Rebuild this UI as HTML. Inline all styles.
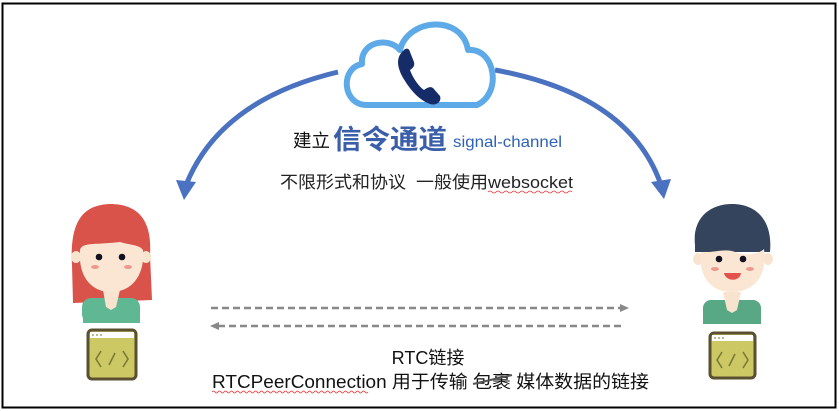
<!DOCTYPE html>
<html><head><meta charset="utf-8"><style>
html,body{margin:0;padding:0;background:#fff;}
svg{display:block;}
text{font-family:"Liberation Sans","Noto Sans CJK SC",sans-serif;}
</style></head><body>
<svg width="839" height="411" viewBox="0 0 839 411" xmlns="http://www.w3.org/2000/svg">
<rect x="2.5" y="3.5" width="833" height="404" fill="#fff" stroke="#000" stroke-width="2"/>
<path d="M338,72 Q220,100 186,185" fill="none" stroke="#4a72c0" stroke-width="5"/>
<polygon points="176,180 196,182 184,200" fill="#4a72c0"/>
<path d="M495,70 Q630,95 661,185" fill="none" stroke="#4a72c0" stroke-width="5"/>
<polygon points="651,182 671,179 664,199" fill="#4a72c0"/>
<path d="M367,105 C342,105 340,68 362,64 C360,42 388,36 400,50 C408,18 462,14 468,50 C496,48 502,94 477,105 Z" fill="#fff" stroke="#5eaae8" stroke-width="6" stroke-linejoin="round"/>
<path d="M404,50 C397,56 396,64 402,76 C410,90 419,100 430,104 C436,106 442,102 440,96 L433,88 C430,86 427,88 424,90 C418,86 412,76 410,70 C413,68 415,66 414,62 L410,52 C409,48 406,48 404,50 Z" fill="#152c68"/>
<text x="293" y="147" font-size="18" fill="#111" textLength="37" lengthAdjust="spacingAndGlyphs">建立</text>
<text x="333" y="149" font-size="27" font-weight="bold" fill="#3a5fa8" textLength="114" lengthAdjust="spacingAndGlyphs">信令通道</text>
<text x="453" y="147" font-size="16" fill="#2e62b8" textLength="109" lengthAdjust="spacingAndGlyphs">signal-channel</text>
<text x="280" y="188" font-size="17" fill="#222" textLength="293" lengthAdjust="spacingAndGlyphs" xml:space="preserve">不限形式和协议  一般使用websocket</text>
<path d="M488,192 q2,-2 4,0 t4,0 t4,0 t4,0 t4,0 t4,0 t4,0 t4,0 t4,0 t4,0 t4,0 t4,0 t4,0 t4,0 t4,0 t4,0 t4,0 t4,0 t4,0 t4,0 t4,0" fill="none" stroke="#e33" stroke-width="0.8"/>
<g>
<path d="M72,265 C70,225 80,205 110,204 C142,204 152,225 150,255 L152,300 L73,303 Z" fill="#d9534b"/>
<rect x="82" y="298" width="58" height="25" rx="9" fill="#5fb893"/>
<rect x="83" y="312" width="57" height="11" fill="#5fb893"/>
<path d="M103,290 L120,290 L116,307 L111,310 L106,307 Z" fill="#f8e3cf"/>
<ellipse cx="76" cy="257" rx="5" ry="6" fill="#f8e3cf"/>
<ellipse cx="146" cy="257" rx="5" ry="6" fill="#f8e3cf"/>
<path d="M80,250 C82,242 95,245 120,242 C130,245 140,245 143,250 C145,275 132,292 111,292 C90,292 78,275 80,250 Z" fill="#fbe6d3"/>
<circle cx="99" cy="257" r="3.3" fill="#112"/>
<circle cx="122" cy="257" r="3.3" fill="#112"/>
<ellipse cx="95" cy="267" rx="4" ry="2" fill="#ec9a90"/>
<ellipse cx="128" cy="267" rx="4" ry="2" fill="#ec9a90"/>
</g>
<g>
<path d="M695,245 C692,218 710,204 732,204 C756,204 773,220 770,252 L695,252 Z" fill="#33445c"/>
<rect x="703" y="300" width="58" height="24" rx="8" fill="#58a886"/>
<rect x="703" y="312" width="58" height="12" fill="#58a886"/>
<path d="M723,292 L741,292 L737,310 L732,313 L727,310 Z" fill="#f8e3cf"/>
<ellipse cx="698" cy="259" rx="5" ry="6" fill="#f8e3cf"/>
<ellipse cx="768" cy="259" rx="5" ry="6" fill="#f8e3cf"/>
<path d="M701,252 C715,253 725,248 735,252 C748,257 760,253 764,249 C768,278 752,292 732,292 C712,292 698,278 701,252 Z" fill="#fbe6d3"/>
<circle cx="719" cy="259" r="3.3" fill="#112"/>
<circle cx="743" cy="259" r="3.3" fill="#112"/>
<ellipse cx="715" cy="269" rx="4" ry="2" fill="#ec9a90"/>
<ellipse cx="750" cy="269" rx="4" ry="2" fill="#ec9a90"/>
<path d="M724,273 L741,273 C740,282 726,282 724,273 Z" fill="#e0524b"/>
</g>
<g>
<rect x="88" y="330" width="48" height="49" rx="4" fill="#ccc863" stroke="#5a5030" stroke-width="3"/>
<rect x="90" y="332" width="44" height="6" fill="#fff"/>
<circle cx="93" cy="335" r="0.9" fill="#8a8a40"/><circle cx="97" cy="335" r="0.9" fill="#8a8a40"/><circle cx="101" cy="335" r="0.9" fill="#8a8a40"/>
<path d="M101,351 L96,359 L101,367 M123,351 L128,359 L123,367 M115,353 L109,365" fill="none" stroke="#7a7a3a" stroke-width="1.6"/>
</g>
<g>
<rect x="710" y="333" width="45" height="45" rx="4" fill="#ccc863" stroke="#5a5030" stroke-width="3"/>
<rect x="712" y="335" width="41" height="6" fill="#fff"/>
<circle cx="715" cy="338" r="0.9" fill="#8a8a40"/><circle cx="719" cy="338" r="0.9" fill="#8a8a40"/><circle cx="723" cy="338" r="0.9" fill="#8a8a40"/>
<path d="M722,352 L717,360 L722,368 M743,352 L748,360 L743,368 M735,354 L729,366" fill="none" stroke="#7a7a3a" stroke-width="1.6"/>
</g>
<line x1="211" y1="308" x2="622" y2="308" stroke="#888" stroke-width="2.5" stroke-dasharray="7,4"/>
<polygon points="620,304 629,308 620,312" fill="#888"/>
<line x1="218" y1="326" x2="623" y2="326" stroke="#888" stroke-width="2.5" stroke-dasharray="7,4"/>
<polygon points="219,322 210,326 219,330" fill="#888"/>
<text x="428" y="364" font-size="18" fill="#111" text-anchor="middle">RTC链接</text>
<text x="212" y="388" font-size="18" fill="#111" textLength="437" lengthAdjust="spacingAndGlyphs">RTCPeerConnection 用于传输 包裹 媒体数据的链接</text>
<line x1="473" y1="384" x2="512" y2="375" stroke="#555" stroke-width="2"/>
<path d="M212,392 q1.5,-2 3,0 t3,0 t3,0 t3,0 t3,0 t3,0 t3,0 t3,0 t3,0 t3,0 t3,0 t3,0 t3,0 t3,0 t3,0 t3,0 t3,0 t3,0 t3,0 t3,0 t3,0 t3,0 t3,0 t3,0 t3,0 t3,0 t3,0 t3,0 t3,0 t3,0 t3,0 t3,0 t3,0 t3,0 t3,0 t3,0 t3,0 t3,0 t3,0 t3,0 t3,0 t3,0 t3,0 t3,0 t3,0 t3,0 t3,0 t3,0 t3,0 t3,0 t3,0 t3,0" fill="none" stroke="#e33" stroke-width="0.8"/>
</svg>
</body></html>
